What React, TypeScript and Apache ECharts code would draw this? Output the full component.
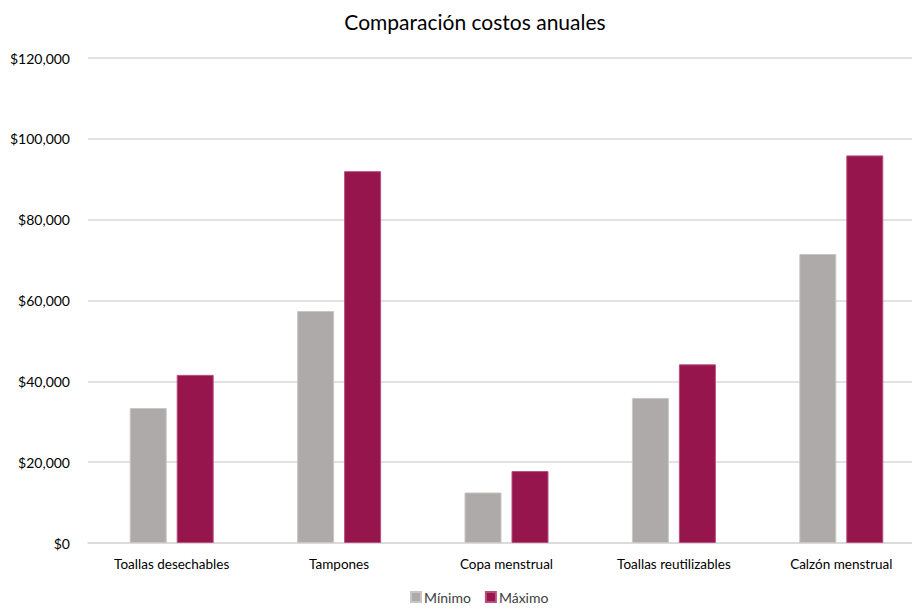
import React, { useEffect, useRef } from "react";
import * as echarts from "echarts";

const categories = [
  "Toallas desechables",
  "Tampones",
  "Copa menstrual",
  "Toallas reutilizables",
  "Calzón menstrual",
];
const minimo = [33400, 57400, 12500, 35900, 71500];
const maximo = [41600, 92000, 17800, 44200, 95900];
const seriesNames = ["Mínimo", "Máximo"];
const yTicks = [0, 20000, 40000, 60000, 80000, 100000, 120000];

const FONT = "Lato, 'Liberation Sans', sans-serif";

export default function App() {
  const ref = useRef<HTMLDivElement>(null);
  useEffect(() => {
    if (!ref.current) return;
    const chart = echarts.init(ref.current, undefined, { renderer: "svg" });
    chart.setOption({
      animation: false,
      backgroundColor: "#ffffff",
      textStyle: { fontFamily: FONT },
      title: {
        text: "Comparación costos anuales",
        left: 470,
        top: 6,
        textAlign: "center",
        textStyle: { fontFamily: FONT, fontSize: 21, fontWeight: "normal", color: "#000" },
      },
      legend: {
        data: seriesNames,
        bottom: -1,
        left: 405,
        itemWidth: 10,
        itemHeight: 10,
        itemGap: 14,
        icon: "rect",
        textStyle: { fontFamily: FONT, fontSize: 14, color: "#404040", padding: [0, 0, 0, -2] },
      },
      grid: { left: 88, right: 1, top: 58, bottom: 65, containLabel: false },
      xAxis: {
        type: "category",
        data: categories,
        axisTick: { show: false },
        axisLine: { lineStyle: { color: "#d9d9d9", width: 1.5 } },
        axisLabel: { fontFamily: FONT, fontSize: 13.5, color: "#000", margin: 14, interval: 0 },
      },
      yAxis: {
        type: "value",
        min: yTicks[0],
        max: yTicks[yTicks.length - 1],
        interval: 20000,
        axisLine: { show: false },
        axisTick: { show: false },
        splitLine: { lineStyle: { color: "#d9d9d9", width: 1.5 } },
        axisLabel: {
          fontFamily: FONT,
          fontSize: 14,
          color: "#000",
          margin: 18,
          formatter: (v: number) => "$" + v.toLocaleString("en-US"),
        },
      },
      series: [
        {
          name: seriesNames[0],
          type: "bar",
          data: minimo,
          barWidth: 37,
          barGap: "27%",
          itemStyle: { color: "#AEAAAA", borderColor: "#c9c6c6", borderWidth: 1 },
        },
        {
          name: seriesNames[1],
          type: "bar",
          data: maximo,
          barWidth: 37,
          barGap: "27%",
          itemStyle: { color: "#96154D", borderColor: "#b8507e", borderWidth: 1 },
        },
      ],
    });
    return () => chart.dispose();
  }, []);
  return (
    <div style={{ position: "absolute", left: 0, top: 0, width: 912, height: 608, overflow: "hidden", background: "#fff" }}>
      <div ref={ref} style={{ width: 926, height: 608 }} />
    </div>
  );
}
